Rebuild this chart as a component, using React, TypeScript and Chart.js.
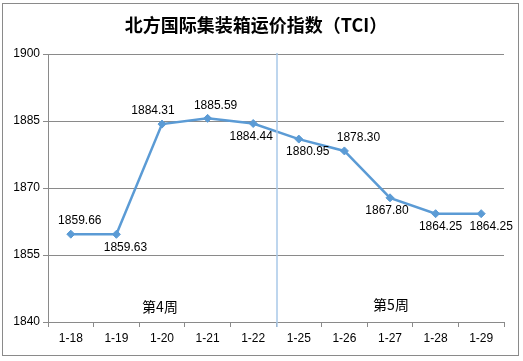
import React, { useEffect, useRef } from "react";
import { Chart, registerables } from "chart.js";

Chart.register(...registerables);

const categories = ["1-18", "1-19", "1-20", "1-21", "1-22", "1-25", "1-26", "1-27", "1-28", "1-29"];
const tciValues = [1859.66, 1859.63, 1884.31, 1885.59, 1884.44, 1880.95, 1878.3, 1867.8, 1864.25, 1864.25];
const yTicks = [1840, 1855, 1870, 1885, 1900];
const weekLabels = ["第4周", "第5周"];
const titleText = "北方国际集装箱运价指数（TCI）";

const LABEL_FONT = '12px "Liberation Sans", Arial, sans-serif';
const CJK_FONT = '"Noto Sans CJK SC", "Noto Sans", sans-serif';
// label placement offsets [dx, dy] relative to point (style only)
const labelOffsets: [number, number][] = [
  [9, -13], [9, 13], [-9, -13], [8, -13], [-2, 13],
  [9, 13], [14, -13], [-3, 13], [5, 13], [10, 13],
];

const decorPlugin = {
  id: "decor",
  beforeDraw(chart: any) {
    const ctx = chart.ctx;
    ctx.save();
    ctx.fillStyle = "#ffffff";
    ctx.fillRect(0, 0, chart.width, chart.height);
    ctx.restore();
  },
  afterDraw(chart: any) {
    const ctx = chart.ctx;
    const x = chart.scales.x;
    const area = chart.chartArea;
    ctx.save();
    // outer border
    ctx.strokeStyle = "#8a8a8a";
    ctx.lineWidth = 1;
    ctx.strokeRect(2.5, 3.5, 516, 352);
    // title
    ctx.fillStyle = "#000";
    ctx.font = `bold 18px ${CJK_FONT}`;
    ctx.textAlign = "center";
    ctx.textBaseline = "middle";
    ctx.fillText(titleText, 256, 25);
    // week separator
    const sepX = (x.getPixelForValue(4) + x.getPixelForValue(5)) / 2 + 1;
    ctx.strokeStyle = "#a9c8e8";
    ctx.lineWidth = 1.5;
    ctx.beginPath();
    ctx.moveTo(sepX, area.top - 1);
    ctx.lineTo(sepX, area.bottom + 5);
    ctx.stroke();
    // week labels
    ctx.font = `14px ${CJK_FONT}`;
    ctx.fillStyle = "#000";
    const w1 = (x.getPixelForValue(1) + x.getPixelForValue(3)) / 2 - 4;
    const w2 = (x.getPixelForValue(6) + x.getPixelForValue(8)) / 2 - 1;
    ctx.fillText(weekLabels[0], w1 + 2, area.bottom - 15);
    ctx.fillText(weekLabels[1], w2 + 2, area.bottom - 17);
    // data labels
    const meta = chart.getDatasetMeta(0);
    ctx.font = LABEL_FONT;
    meta.data.forEach((pt: any, i: number) => {
      const [dx, dy] = labelOffsets[i];
      ctx.fillText(tciValues[i].toFixed(2), pt.x + dx, pt.y + dy);
    });
    ctx.restore();
  },
};

export default function App() {
  const ref = useRef<HTMLCanvasElement>(null);
  useEffect(() => {
    const chart = new Chart(ref.current!, {
      type: "line",
      data: {
        labels: categories,
        datasets: [
          {
            data: tciValues,
            borderColor: "#5b9bd5",
            backgroundColor: "#5b9bd5",
            borderWidth: 2.5,
            pointStyle: "rectRot",
            pointRadius: 4,
            pointBorderWidth: 1,
            tension: 0,
          },
        ],
      },
      options: {
        animation: false,
        responsive: false,
        devicePixelRatio: 1,
        layout: { padding: { left: 0, top: 54, right: 19, bottom: 0 } },
        plugins: { legend: { display: false }, tooltip: { enabled: false }, title: { display: false } },
        scales: {
          x: {
            offset: true,
            grid: { offset: true, drawOnChartArea: false, color: "#8a8a8a", tickLength: 5 },
            border: { color: "#8a8a8a" },
            ticks: { color: "#000", font: { family: '"Liberation Sans", Arial, sans-serif', size: 12 }, padding: 4, maxRotation: 0 },
            afterFit: (s: any) => { s.height = 39; },
          },
          y: {
            min: 1840,
            max: 1900,
            afterBuildTicks: (s: any) => { s.ticks = yTicks.map((v) => ({ value: v })); },
            grid: { color: "#8a8a8a", tickLength: 5 },
            border: { color: "#8a8a8a" },
            ticks: {
              color: "#000",
              font: { family: '"Liberation Sans", Arial, sans-serif', size: 12 },
              padding: 3,
              callback: (v: any) => String(v),
            },
            afterFit: (s: any) => { s.width = 48; },
          },
        },
      },
      plugins: [decorPlugin],
    });
    return () => chart.destroy();
  }, []);
  return (
    <div style={{ position: "fixed", left: 0, top: 0, width: 523, height: 361, background: "#fff" }}>
      <canvas ref={ref} width={523} height={361} style={{ width: 523, height: 361 }} />
    </div>
  );
}
